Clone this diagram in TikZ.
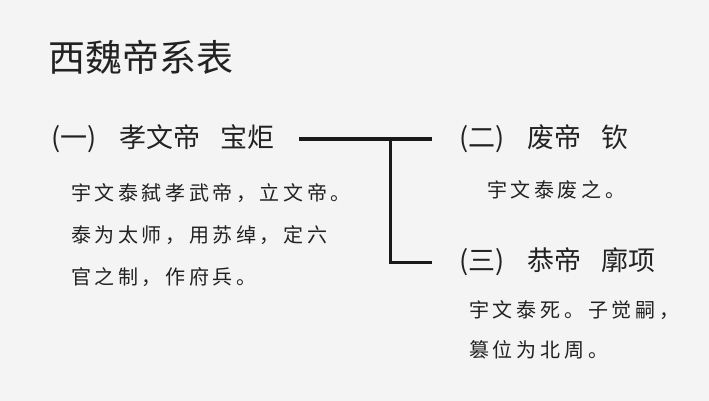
\documentclass[tikz,border=0pt]{standalone}
\usepackage{fontspec}
\setmainfont{Noto Sans CJK SC}
\usepackage{tikz}
\definecolor{bg}{HTML}{F4F4F4}
\definecolor{ink}{HTML}{222222}
\tikzset{
  heading/.style={anchor=west, inner sep=0pt, text=ink, font=\fontsize{37}{40}\selectfont},
  emperor/.style={anchor=west, inner sep=0pt, text=ink, font=\fontsize{27}{30}\selectfont},
  note/.style={anchor=base west, inner sep=0pt, text=ink, align=left,
    font=\fontsize{20}{42}\selectfont\addfontfeature{LetterSpace=18}},
  link/.style={line width=3pt, draw=black!90}
}
\begin{document}
\begin{tikzpicture}[x=1pt, y=-1pt]
\fill [bg] (0, 0) rectangle (709, 401);
\useasboundingbox (0, 0) rectangle (709, 401);
\node at (48, 57) [heading] (title) {西魏帝系表};
\node at (51, 139) [emperor] (emp1) {(一)\hspace{0.85em}孝文帝\hspace{0.75em}宝炬};
\node at (71, 284.6) [note] (note1) {宇文泰弑孝武帝，立文帝。\\泰为太师，用苏绰，定六\\官之制，作府兵。};
\node at (459, 139) [emperor] (emp2) {(二)\hspace{0.85em}废帝\hspace{0.75em}钦};
\node at (487, 197.6) [note] (note2) {宇文泰废之。};
\node at (469, 357.6) [note, font=\fontsize{20}{40}\selectfont\addfontfeature{LetterSpace=19}] (note3) {宇文泰死。子觉嗣，\\篡位为北周。};
\node at (459, 262) [emperor] (emp3) {(三)\hspace{0.85em}恭帝\hspace{0.75em}廓项};
\coordinate (fork) at (390, 139);
\draw [link, shorten <=24pt, shorten >=27pt] (emp1.east) to (emp2.west);
\draw [link, shorten >=27pt] (fork) |- (emp3.west);
\end{tikzpicture}
\end{document}
